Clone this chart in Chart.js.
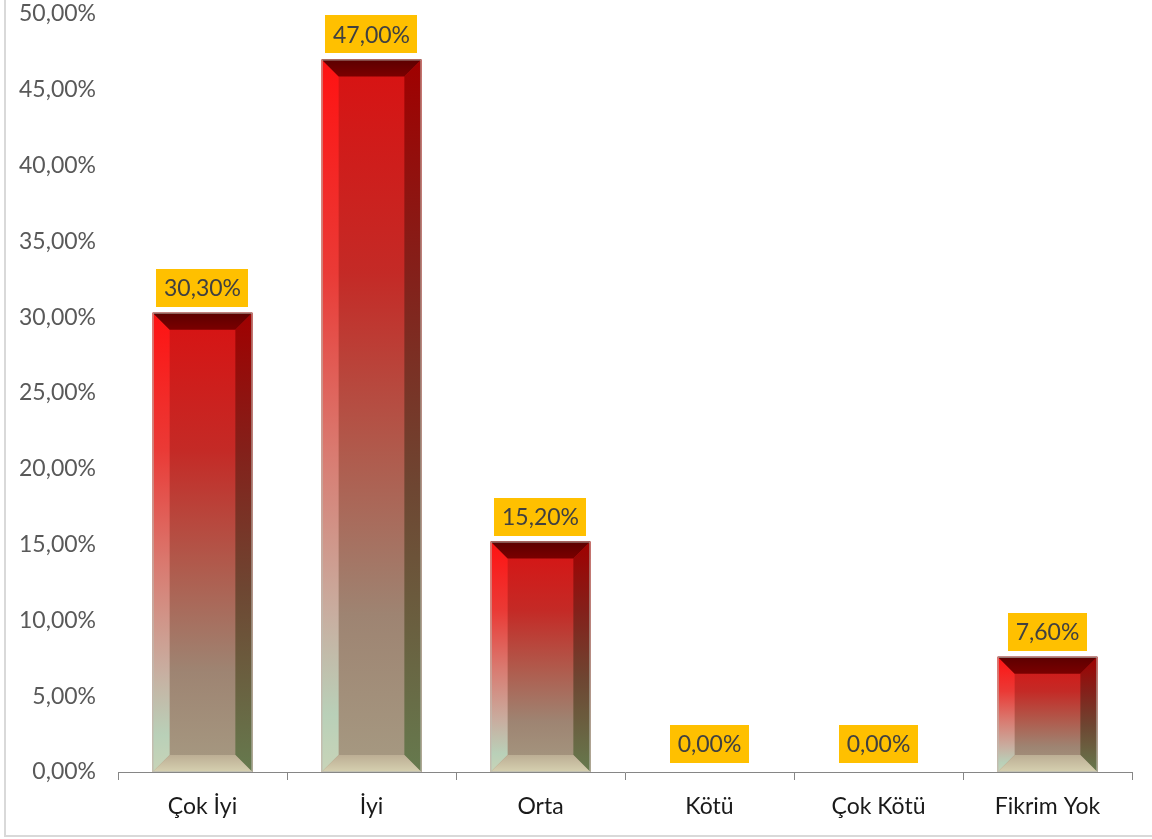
<!DOCTYPE html>
<html>
<head>
<meta charset="utf-8">
<title>Değerlendirme</title>
<script src="https://cdn.jsdelivr.net/npm/chart.js@4/dist/chart.umd.min.js"></script>
<style>
  html, body { margin: 0; padding: 0; background: #ffffff; }
  #wrap { position: relative; width: 1152px; height: 839px; }
</style>
</head>
<body>
<div id="wrap"><canvas id="chart" width="1152" height="839"></canvas></div>
<script>
// Answer categories and their share of responses (percent)
const categories = ['Çok İyi', 'İyi', 'Orta', 'Kötü', 'Çok Kötü', 'Fikrim Yok'];
const percentages = [30.3, 47.0, 15.2, 0.0, 0.0, 7.6];

// Value axis range
const yMin = 0;
const yMax = 50;
const yStep = 5;

const FONT = 'Lato, "Open Sans", "DejaVu Sans", sans-serif';

function fmtPercent(v) {
  return v.toFixed(2).replace('.', ',') + '%';
}

// Outer frame of the chart object
const framePlugin = {
  id: 'frame',
  beforeDraw(chart) {
    const ctx = chart.ctx;
    ctx.save();
    ctx.strokeStyle = '#d9d9d9';
    ctx.lineWidth = 2;
    ctx.strokeRect(5, -10, chart.width + 20, 846);
    ctx.restore();
  }
};

// Bevelled bar faces drawn over each bar element
const bevelPlugin = {
  id: 'bevel',
  afterDatasetsDraw(chart) {
    const ctx = chart.ctx;
    const meta = chart.getDatasetMeta(0);
    meta.data.forEach((bar) => {
      const { x, y, base, width } = bar.getProps(['x', 'y', 'base', 'width'], true);
      const h = base - y;
      if (h < 1) return;
      const x0 = x - width / 2, x1 = x + width / 2;
      const top = y, bot = base;
      const b = Math.min(17, h / 2, width / 2);

      ctx.save();
      // face
      const face = ctx.createLinearGradient(0, top, 0, bot);
      face.addColorStop(0.00, '#d81212');
      face.addColorStop(0.30, '#c42a26');
      face.addColorStop(0.55, '#b05a4c');
      face.addColorStop(0.78, '#9e8472');
      face.addColorStop(1.00, '#a69a82');
      ctx.fillStyle = face;
      ctx.fillRect(x0, top, width, h);

      // left bevel
      const lg = ctx.createLinearGradient(0, top, 0, bot);
      lg.addColorStop(0.00, '#ff1212');
      lg.addColorStop(0.30, '#ea3a36');
      lg.addColorStop(0.55, '#d97a70');
      lg.addColorStop(0.78, '#c8aea0');
      lg.addColorStop(0.92, '#b9d0b8');
      lg.addColorStop(1.00, '#c8d4b8');
      ctx.fillStyle = lg;
      ctx.beginPath();
      ctx.moveTo(x0, top); ctx.lineTo(x0 + b, top + b);
      ctx.lineTo(x0 + b, bot - b); ctx.lineTo(x0, bot);
      ctx.closePath(); ctx.fill();

      // right bevel
      const rg = ctx.createLinearGradient(0, top, 0, bot);
      rg.addColorStop(0.00, '#a00000');
      rg.addColorStop(0.30, '#84201a');
      rg.addColorStop(0.60, '#6e4632');
      rg.addColorStop(1.00, '#667a4e');
      ctx.fillStyle = rg;
      ctx.beginPath();
      ctx.moveTo(x1, top); ctx.lineTo(x1 - b, top + b);
      ctx.lineTo(x1 - b, bot - b); ctx.lineTo(x1, bot);
      ctx.closePath(); ctx.fill();

      // top bevel
      const tg = ctx.createLinearGradient(0, top, 0, top + b);
      tg.addColorStop(0, '#5c0000');
      tg.addColorStop(1, '#7a0000');
      ctx.fillStyle = tg;
      ctx.beginPath();
      ctx.moveTo(x0, top); ctx.lineTo(x1, top);
      ctx.lineTo(x1 - b, top + b); ctx.lineTo(x0 + b, top + b);
      ctx.closePath(); ctx.fill();

      // bottom bevel
      const bg = ctx.createLinearGradient(0, bot - b, 0, bot);
      bg.addColorStop(0, '#bcae94');
      bg.addColorStop(1, '#d6d0b0');
      ctx.fillStyle = bg;
      ctx.beginPath();
      ctx.moveTo(x0, bot); ctx.lineTo(x1, bot);
      ctx.lineTo(x1 - b, bot - b); ctx.lineTo(x0 + b, bot - b);
      ctx.closePath(); ctx.fill();

      // thin outline
      ctx.strokeStyle = 'rgba(190,190,180,0.8)';
      ctx.lineWidth = 1;
      ctx.strokeRect(x0 + 0.5, top + 0.5, width - 1, h - 1);
      ctx.restore();
    });
  }
};

// Value labels in gold boxes above each bar
const valueLabelPlugin = {
  id: 'valueLabels',
  afterDatasetsDraw(chart) {
    const ctx = chart.ctx;
    const meta = chart.getDatasetMeta(0);
    const values = chart.data.datasets[0].data;
    ctx.save();
    ctx.font = '23px ' + FONT;
    ctx.textAlign = 'center';
    ctx.textBaseline = 'middle';
    meta.data.forEach((bar, i) => {
      const { x, y } = bar.getProps(['x', 'y'], true);
      const text = fmtPercent(values[i]);
      const tw = ctx.measureText(text).width;
      const bw = tw + 15, bh = 38;
      const gap = values[i] === 0 ? 9 : 6;
      const by = y - gap - bh;
      ctx.fillStyle = '#ffc000';
      ctx.fillRect(Math.round(x - bw / 2), Math.round(by), Math.round(bw), bh);
      ctx.fillStyle = '#404040';
      ctx.fillText(text, x, by + bh / 2 + 1);
    });
    ctx.restore();
  }
};

new Chart(document.getElementById('chart'), {
  type: 'bar',
  data: {
    labels: categories,
    datasets: [{
      data: percentages,
      backgroundColor: '#b05a4c',
      borderWidth: 0,
      barPercentage: 0.59,
      categoryPercentage: 1.0
    }]
  },
  options: {
    responsive: false,
    animation: false,
    devicePixelRatio: 1,
    layout: { padding: { top: 14, right: 20, bottom: 0, left: 0 } },
    plugins: {
      legend: { display: false },
      tooltip: { enabled: false },
      title: { display: false }
    },
    scales: {
      x: {
        grid: {
          display: true,
          offset: true,
          drawOnChartArea: false,
          drawTicks: true,
          tickLength: 8,
          color: '#868686',
          lineWidth: 1
        },
        border: { display: true, color: '#868686', width: 1 },
        ticks: {
          color: '#1a1a1a',
          font: { family: FONT, size: 23 },
          padding: 13,
          maxRotation: 0
        },
        afterFit(scale) { scale.height = 67; }
      },
      y: {
        min: yMin,
        max: yMax,
        grid: { display: false, drawTicks: false },
        border: { display: false },
        ticks: {
          stepSize: yStep,
          color: '#595959',
          font: { family: FONT, size: 23 },
          padding: 22,
          callback: (v) => fmtPercent(v)
        },
        afterFit(scale) {
          scale.width = 118;
          scale.paddingTop = 0;
          scale.paddingBottom = 0;
        }
      }
    }
  },
  plugins: [framePlugin, bevelPlugin, valueLabelPlugin]
});
</script>
</body>
</html>
